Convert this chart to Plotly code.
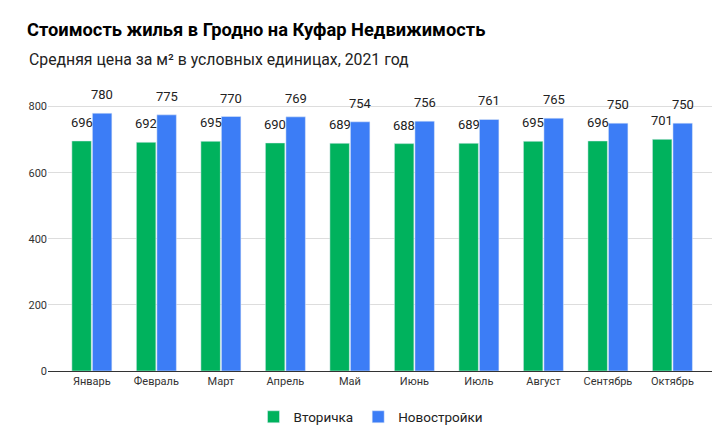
import plotly.graph_objects as go

months = ["Январь", "Февраль", "Март", "Апрель", "Май", "Июнь", "Июль", "Август", "Сентябрь", "Октябрь"]
secondary = [696, 692, 695, 690, 689, 688, 689, 695, 696, 701]
new_build = [780, 775, 770, 769, 754, 756, 761, 765, 750, 750]
y_ticks = [0, 200, 400, 600, 800]

GREEN = "#00B25D"
BLUE = "#3C7DF6"
FONT = "Roboto, Arial, sans-serif"

fig = go.Figure()
fig.add_trace(go.Bar(x=months, y=secondary, name="Вторичка", marker_color=GREEN))
fig.add_trace(go.Bar(x=months, y=new_build, name="Новостройки", marker_color=BLUE))

# value labels above each bar (offset from the data position)
for series, dx in ((secondary, -10.25), (new_build, 10.25)):
    for m, v in zip(months, series):
        fig.add_annotation(x=m, y=v, text=str(v), showarrow=False, xshift=dx, yshift=18.5,
                           xanchor="center", yanchor="middle",
                           font=dict(size=13, color="#222", family=FONT))

fig.update_layout(
    width=720, height=437,
    margin=dict(l=40, r=13, t=75, b=74, autoexpand=False),
    paper_bgcolor="white", plot_bgcolor="white",
    font=dict(family=FONT, color="#222"),
    barmode="group", bargap=0.364, bargroupgap=0.05,
    title=dict(text="<b>Стоимость жилья в Гродно на Куфар Недвижимость</b>",
               xref="container", x=19/720, xanchor="left", yref="container", y=1-22/437, yanchor="middle",
               font=dict(size=18.3, color="#000", family=FONT)),
    showlegend=True,
    legend=dict(orientation="h", x=(363-40)/667, xanchor="center", y=-(409-363)/288, yanchor="middle",
                font=dict(size=13.5, color="#222"), itemwidth=30),
)
fig.add_annotation(text="Средняя цена за м² в условных единицах, 2021 год",
                   xref="paper", yref="paper", x=-21/667, xanchor="left",
                   y=1 + (75 - 52) / 288, yanchor="middle", showarrow=False,
                   font=dict(size=15.8, color="#222", family=FONT))
fig.update_xaxes(range=[-0.68, 9.66], showline=True, linecolor="#333", linewidth=1, ticks="",
                 automargin=False, tickfont=dict(size=11, color="#333"), showgrid=False)
fig.update_yaxes(range=[0, 288/0.3305], tickvals=y_ticks, showgrid=True, gridcolor="#dddddd",
                 zeroline=False, showline=False, ticks="", automargin=False,
                 tickfont=dict(size=11, color="#333"))

fig.write_html("out.html")
